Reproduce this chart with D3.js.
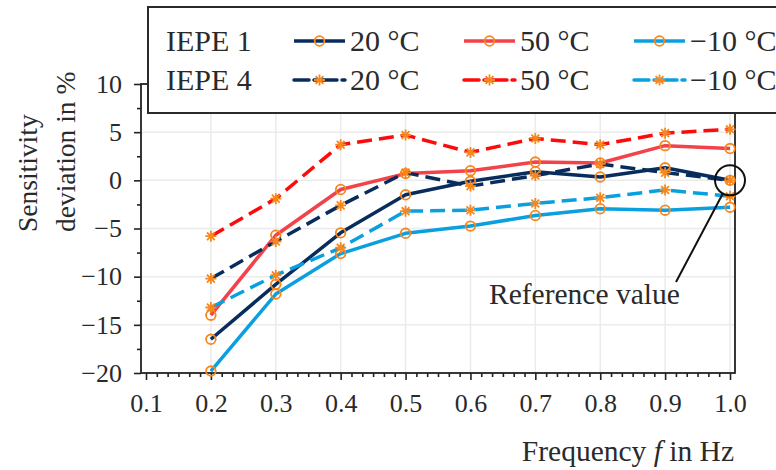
<!DOCTYPE html>
<html><head><meta charset="utf-8">
<script src="https://cdn.jsdelivr.net/npm/d3@7"></script>
<style>
html,body{margin:0;padding:0;background:#fff;}
svg text{font-family:"Liberation Serif","Times New Roman",serif;fill:#2a2a2a;}
</style></head>
<body><svg id="c" width="776" height="470"></svg>
<script>
const freqs = [0.2, 0.3, 0.4, 0.5, 0.6, 0.7, 0.8, 0.9, 1.0];
const iepe1_20 = [-16.5, -10.8, -5.45, -1.5, -0.1, 0.9, 0.35, 1.3, 0];
const iepe1_50 = [-14.0, -5.7, -0.95, 0.7, 1.0, 1.9, 1.8, 3.6, 3.3];
const iepe1_m10 = [-19.8, -11.8, -7.6, -5.5, -4.75, -3.65, -2.95, -3.1, -2.8];
const iepe4_20 = [-10.2, -6.35, -2.6, 0.8, -0.6, 0.5, 1.7, 0.8, 0];
const iepe4_50 = [-5.8, -1.9, 3.7, 4.7, 2.9, 4.35, 3.7, 4.9, 5.3];
const iepe4_m10 = [-13.2, -9.85, -7.0, -3.2, -3.1, -2.4, -1.8, -1.0, -1.65];
const xTicks = [0.1, 0.2, 0.3, 0.4, 0.5, 0.6, 0.7, 0.8, 0.9, 1.0];
const xTickLabels = ["0.1","0.2","0.3","0.4","0.5","0.6","0.7","0.8","0.9","1.0"];
const yTicks = [-20, -15, -10, -5, 0, 5, 10];
const yTickLabels = ["−20","−15","−10","−5","0","5","10"];
const sensorNames = ["IEPE 1", "IEPE 4"];
const tempLabels = ["20 °C", "50 °C", "−10 °C"];

const NAVY = "#082d5c", RED1 = "#f2424a", RED4 = "#ff0a0a", BLUE = "#0aa0e0", ORANGE = "#f7861c";
const series = [
  {v: iepe1_20, color: NAVY, dash: null, marker: "o"},
  {v: iepe1_50, color: RED1, dash: null, marker: "o"},
  {v: iepe1_m10, color: BLUE, dash: null, marker: "o"},
  {v: iepe4_20, color: NAVY, dash: "15,7", marker: "*"},
  {v: iepe4_50, color: RED4, dash: "15,7", marker: "*"},
  {v: iepe4_m10, color: BLUE, dash: "15,7", marker: "*"}
];

const svg = d3.select("#c");
const L = 141, R = 735, T = 84, B = 373;
const x = d3.scaleLinear().domain([0.1, 1.0]).range([146, 730]);
const y = d3.scaleLinear().domain([-20, 10]).range([B, T]);

// grid
const g = svg.append("g");
g.selectAll("line.gx").data(xTicks.slice(1)).enter().append("line")
  .attr("x1", d => x(d)).attr("x2", d => x(d)).attr("y1", T).attr("y2", B)
  .attr("stroke", "#ebebeb").attr("stroke-width", 1.5);
g.selectAll("line.gy").data(yTicks.slice(1)).enter().append("line")
  .attr("x1", L).attr("x2", R).attr("y1", d => y(d)).attr("y2", d => y(d))
  .attr("stroke", "#ebebeb").attr("stroke-width", 1.5);

// axes
const minorX = [];
for (let k = 0; k <= 54; k++) { if (k % 6 !== 0) minorX.push(0.1 + k * 0.1 / 6); }
const minorY = [-17.5, -12.5, -7.5, -2.5, 2.5, 7.5];

const axB = svg.append("g").attr("transform", `translate(0,${B})`)
  .call(d3.axisBottom(x).tickValues(xTicks).tickFormat((d, i) => xTickLabels[i]).tickSize(7).tickPadding(14));
const axBm = svg.append("g").attr("transform", `translate(0,${B})`)
  .call(d3.axisBottom(x).tickValues(minorX).tickFormat("").tickSize(4));
const axL = svg.append("g").attr("transform", `translate(${L},0)`)
  .call(d3.axisLeft(y).tickValues(yTicks).tickFormat((d, i) => yTickLabels[i]).tickSize(7).tickPadding(12));
const axLm = svg.append("g").attr("transform", `translate(${L},0)`)
  .call(d3.axisLeft(y).tickValues(minorY).tickFormat("").tickSize(4));
[axB, axBm, axL, axLm].forEach(a => {
  a.select(".domain").remove();
  a.selectAll("line").attr("stroke", "#222").attr("stroke-width", 1.6);
  a.selectAll("text").attr("font-size", 26).attr("fill", "#2a2a2a")
   .attr("font-family", '"Liberation Serif",serif');
});
axB.selectAll("text").attr("dy", "0.71em");

// frame
svg.append("rect").attr("x", L).attr("y", T).attr("width", R - L).attr("height", B - T)
  .attr("fill", "none").attr("stroke", "#222").attr("stroke-width", 1.8);

// lines
const line = d3.line().x((d, i) => x(freqs[i])).y(d => y(d));
const starPath = "M-5.5,0H5.5M0,-5.5V5.5M-3.9,-3.9L3.9,3.9M-3.9,3.9L3.9,-3.9";
function drawMarker(sel, type, cx, cy) {
  if (type === "o") {
    sel.append("circle").attr("cx", cx).attr("cy", cy).attr("r", 4.8)
      .attr("fill", "none").attr("stroke", ORANGE).attr("stroke-width", 1.8);
  } else {
    sel.append("path").attr("d", starPath).attr("transform", `translate(${cx},${cy})`)
      .attr("stroke", ORANGE).attr("stroke-width", 1.8).attr("fill", "none");
  }
}
series.forEach(s => {
  const gs = svg.append("g");
  gs.append("path").datum(s.v).attr("d", line).attr("fill", "none")
    .attr("stroke", s.color).attr("stroke-width", 3.5)
    .attr("stroke-dasharray", s.dash).attr("stroke-linejoin", "round");
  s.v.forEach((d, i) => drawMarker(gs, s.marker, x(freqs[i]), y(d)));
});

// annotation
svg.append("circle").attr("cx", x(1.0)).attr("cy", y(0)).attr("r", 15)
  .attr("fill", "none").attr("stroke", "#111").attr("stroke-width", 2);
svg.append("line").attr("x1", 676).attr("y1", 282).attr("x2", x(1.0) - 7).attr("y2", y(0) + 13)
  .attr("stroke", "#111").attr("stroke-width", 2);
svg.append("text").attr("x", 489).attr("y", 304).attr("font-size", 29.5).attr("fill", "#111")
  .text("Reference value");

// legend
const lg = svg.append("g");
lg.append("rect").attr("x", 148).attr("y", 7).attr("width", 640).attr("height", 106)
  .attr("fill", "#fff").attr("stroke", "#2a2a2a").attr("stroke-width", 2);
const rowY = [41, 80];
const colX = [294, 464, 634];
sensorNames.forEach((n, r) => {
  lg.append("text").attr("x", 166).attr("y", rowY[r] + 10).attr("font-size", 30).attr("fill", "#1a1a1a").text(n);
  tempLabels.forEach((t, c) => {
    const s = series[r * 3 + c];
    lg.append("line").attr("x1", colX[c]).attr("x2", colX[c] + 51).attr("y1", rowY[r]).attr("y2", rowY[r])
      .attr("stroke", s.color).attr("stroke-width", 3.5).attr("stroke-dasharray", s.dash ? "15,5,3,5" : null)
      .attr("stroke-linecap", s.dash ? "round" : "butt");
    drawMarker(lg, s.marker, colX[c] + 25.5, rowY[r]);
    lg.append("text").attr("x", colX[c] + 56).attr("y", rowY[r] + 10).attr("font-size", 30).attr("fill", "#1a1a1a").text(t);
  });
});

// axis titles
const yt = svg.append("text").attr("transform", "translate(37,232) rotate(-90)").attr("font-size", 27.5).attr("fill", "#2a2a2a");
yt.append("tspan").attr("x", 0).attr("y", 0).text("Sensitivity");
yt.append("tspan").attr("x", 0).attr("y", 38).text("deviation in %");
const xt = svg.append("text").attr("x", 734).attr("y", 461).attr("text-anchor", "end").attr("font-size", 29.5).attr("fill", "#2a2a2a");
xt.append("tspan").text("Frequency ");
xt.append("tspan").attr("font-style", "italic").text("f");
xt.append("tspan").text(" in Hz");
</script></body></html>
